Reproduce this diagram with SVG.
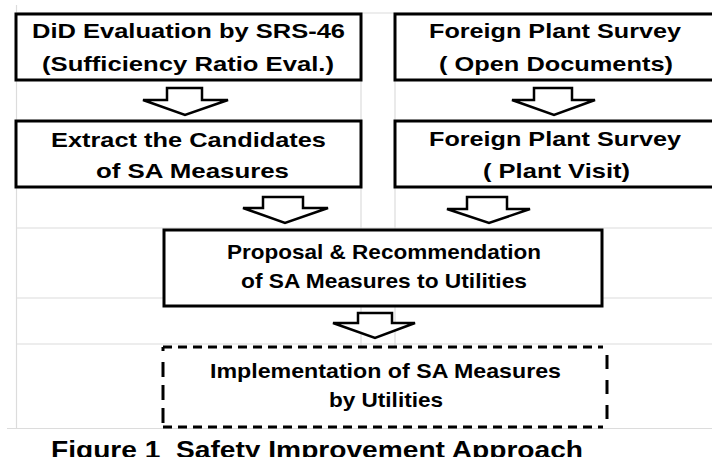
<svg xmlns="http://www.w3.org/2000/svg" width="712" height="457" viewBox="0 0 712 457">
<style>
.grid{stroke:#dcdcdc;stroke-width:1.2;fill:none}
.box{fill:#fff;stroke:#000;stroke-width:3}
.dash{stroke:#000;stroke-width:3;fill:none}
.arr{fill:#fff;stroke:#000;stroke-width:2.5;stroke-linejoin:miter}
text{font-family:"Liberation Sans",Arial,sans-serif;font-weight:bold;font-size:21px;fill:#000;text-anchor:middle}
.cap{font-size:23px;white-space:pre}
</style>
<rect width="712" height="457" fill="#fff"/>
<g id="grid">
<line class="grid" x1="16.5" y1="5" x2="16.5" y2="428"/>
<line class="grid" x1="361" y1="13" x2="361" y2="428"/>
<line class="grid" x1="395" y1="13" x2="395" y2="428"/>
<line class="grid" x1="16" y1="13" x2="712" y2="13"/>
<line class="grid" x1="16" y1="228" x2="712" y2="228"/>
<line class="grid" x1="16" y1="298" x2="712" y2="298"/>
<line class="grid" x1="16" y1="344" x2="712" y2="344"/>
<line class="grid" x1="7" y1="428.5" x2="712" y2="428.5"/>
</g>
<g id="n1">
<rect class="box" x="16" y="14" width="345" height="66"/>
<text x="188.5" y="38" textLength="313" lengthAdjust="spacingAndGlyphs">DiD Evaluation by SRS-46</text>
<text x="188" y="71" textLength="292" lengthAdjust="spacingAndGlyphs">(Sufficiency Ratio Eval.)</text>
</g>
<g id="n2">
<rect class="box" x="395" y="14" width="320" height="66"/>
<text x="555" y="38" textLength="252" lengthAdjust="spacingAndGlyphs">Foreign Plant Survey</text>
<text x="556" y="71" textLength="234" lengthAdjust="spacingAndGlyphs">( Open Documents)</text>
</g>
<g id="n3">
<rect class="box" x="16" y="121" width="345" height="66"/>
<text x="188.5" y="147" textLength="275" lengthAdjust="spacingAndGlyphs">Extract the Candidates</text>
<text x="192.5" y="178" textLength="193" lengthAdjust="spacingAndGlyphs">of SA Measures</text>
</g>
<g id="n4">
<rect class="box" x="395" y="121" width="320" height="66"/>
<text x="555" y="146" textLength="252" lengthAdjust="spacingAndGlyphs">Foreign Plant Survey</text>
<text x="556.5" y="178" textLength="147" lengthAdjust="spacingAndGlyphs">( Plant Visit)</text>
</g>
<g id="n5">
<rect class="box" x="164" y="230" width="438" height="76"/>
<text x="384" y="259" textLength="314" lengthAdjust="spacingAndGlyphs">Proposal &amp; Recommendation</text>
<text x="384" y="288" textLength="286" lengthAdjust="spacingAndGlyphs">of SA Measures to Utilities</text>
</g>
<g id="n6">
<rect x="163" y="347" width="443" height="80" fill="#fff"/>
<line class="dash" x1="163" y1="347" x2="603" y2="347" stroke-dasharray="9 6"/>
<line class="dash" x1="163" y1="427" x2="603" y2="427" stroke-dasharray="9 6"/>
<line class="dash" x1="163" y1="347" x2="163" y2="427" stroke-dasharray="4 11 15 8 15 8 15 4"/>
<line class="dash" x1="607" y1="351" x2="607" y2="427" stroke-dasharray="0 4 14 11 14 11 14 12"/>
<text x="385.5" y="378" textLength="351" lengthAdjust="spacingAndGlyphs">Implementation of SA Measures</text>
<text x="386" y="407" textLength="114" lengthAdjust="spacingAndGlyphs">by Utilities</text>
</g>
<g id="connectors">
<polygon class="arr" points="167,88 202,88 202,100 228,100 185,115 143,100 167,100"/>
<polygon class="arr" points="534,88 572,88 572,100 595,100 554,115 512,100 534,100"/>
<polygon class="arr" points="263,197 303,197 303,208 328,208 285,223 243,208 263,208"/>
<polygon class="arr" points="467,197 507,197 507,209 530,209 489,223 447,209 467,209"/>
<polygon class="arr" points="358,313 392,313 392,323 415,323 375,338 333,323 358,323"/>
</g>
<g id="caption">
<text class="cap" x="317" y="458" textLength="532" lengthAdjust="spacingAndGlyphs" xml:space="preserve">Figure 1  Safety Improvement Approach</text>
</g>
</svg>
